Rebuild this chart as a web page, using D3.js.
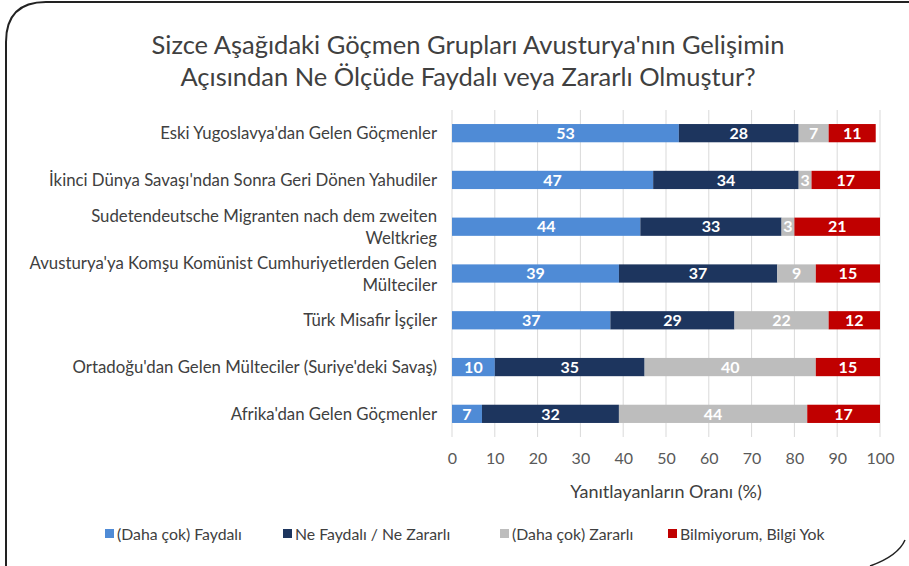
<!DOCTYPE html>
<html>
<head>
<meta charset="utf-8">
<script src="https://cdn.jsdelivr.net/npm/d3@7"></script>
<style>
  html, body { margin: 0; padding: 0; background: #fff; }
  svg { display: block; font-family: Lato, "Open Sans", sans-serif; }
</style>
</head>
<body>
<svg id="chart" width="909" height="566"></svg>
<script>
// Survey groups (top to bottom), each label split into display lines
const categories = [
  ["Eski Yugoslavya'dan Gelen Göçmenler"],
  ["İkinci Dünya Savaşı'ndan Sonra Geri Dönen Yahudiler"],
  ["Sudetendeutsche Migranten nach dem zweiten", "Weltkrieg"],
  ["Avusturya'ya Komşu Komünist Cumhuriyetlerden Gelen", "Mülteciler"],
  ["Türk Misafir İşçiler"],
  ["Ortadoğu'dan Gelen Mülteciler (Suriye'deki Savaş)"],
  ["Afrika'dan Gelen Göçmenler"]
];
const seriesNames = ["(Daha çok) Faydalı", "Ne Faydalı / Ne Zararlı", "(Daha çok) Zararlı", "Bilmiyorum, Bilgi Yok"];
const faydali   = [53, 47, 44, 39, 37, 10, 7];
const notr      = [28, 34, 33, 37, 29, 35, 32];
const zararli   = [7, 3, 3, 9, 22, 40, 44];
const bilmiyorum = [11, 17, 21, 15, 12, 15, 17];
const xTicks = [0, 10, 20, 30, 40, 50, 60, 70, 80, 90, 100];
const colors = ["#4f8bd6", "#1d355e", "#bdbdbd", "#c00000"];

const svg = d3.select("#chart");
const seriesValues = [faydali, notr, zararli, bilmiyorum];

// Frame with rounded corners
svg.append("path")
  .attr("d", "M6,566 L6,42 Q6,2 46,2 L909,2")
  .attr("fill", "none").attr("stroke", "#222").attr("stroke-width", 2);
svg.append("path")
  .attr("d", "M870,566 Q898,556 905,540")
  .attr("fill", "none").attr("stroke", "#222").attr("stroke-width", 1.5);

// Title
const title = svg.append("text")
  .attr("text-anchor", "middle")
  .attr("fill", "#404040").attr("font-size", 25.5);
title.append("tspan").attr("x", 468).attr("y", 54).text("Sizce Aşağıdaki Göçmen Grupları Avusturya'nın Gelişimin");
title.append("tspan").attr("x", 468).attr("y", 86).text("Açısından Ne Ölçüde Faydalı veya Zararlı Olmuştur?");

const x = d3.scaleLinear().domain([0, 100]).range([452, 880]);
const y = d3.scaleBand().domain(d3.range(categories.length)).range([110, 437]).paddingInner(0.61).paddingOuter(0.3);

// Vertical gridlines
svg.append("g").selectAll("line").data(xTicks).join("line")
  .attr("x1", d => x(d)).attr("x2", d => x(d))
  .attr("y1", 110).attr("y2", 437)
  .attr("stroke", "#d9d9d9").attr("stroke-width", 1);

// Stacked bars
const rows = categories.map((c, i) => {
  let acc = 0;
  return seriesValues.map((vals, s) => {
    const seg = { row: i, s, v: vals[i], x0: acc, x1: acc + vals[i] };
    acc += vals[i];
    return seg;
  });
}).flat();

svg.append("clipPath").attr("id", "plotClip")
  .append("rect").attr("x", x(0)).attr("y", 100).attr("width", x(100) - x(0)).attr("height", 350);

const barG = svg.append("g").attr("clip-path", "url(#plotClip)");
barG.selectAll("rect").data(rows).join("rect")
  .attr("x", d => x(d.x0))
  .attr("y", d => y(d.row))
  .attr("width", d => x(d.x1) - x(d.x0))
  .attr("height", y.bandwidth())
  .attr("fill", d => colors[d.s]);

barG.selectAll("text").data(rows).join("text")
  .attr("x", d => (x(d.x0) + Math.min(x(d.x1), x(100))) / 2)
  .attr("y", d => y(d.row) + y.bandwidth() / 2)
  .attr("dy", "0.36em")
  .attr("text-anchor", "middle")
  .attr("fill", "#fff").attr("font-weight", "bold").attr("font-size", 16)
  .text(d => d.v);

// Category labels
const catG = svg.append("g");
categories.forEach((lines, i) => {
  const cy = y(i) + y.bandwidth() / 2;
  const lh = 22;
  const t = catG.append("text")
    .attr("text-anchor", "end").attr("fill", "#404040").attr("font-size", 16.8);
  lines.forEach((ln, k) => {
    t.append("tspan").attr("x", 437)
      .attr("y", cy + (k - (lines.length - 1) / 2) * lh)
      .attr("dy", "0.36em").text(ln);
  });
});

// X axis tick labels
const xAxis = d3.axisBottom(x).tickValues(xTicks).tickSize(0).tickPadding(0);
const axG = svg.append("g").attr("transform", "translate(0,453)").call(xAxis);
axG.select(".domain").remove();
axG.selectAll("text").attr("fill", "#595959").attr("font-size", 16)
  .attr("font-family", "Lato, 'Open Sans', sans-serif");

// Axis title
svg.append("text").attr("x", 666).attr("y", 498).attr("text-anchor", "middle")
  .attr("fill", "#404040").attr("font-size", 18)
  .text("Yanıtlayanların Oranı (%)");

// Legend
const legendX = [105, 283, 500, 668];
const lg = svg.append("g").selectAll("g").data(seriesNames).join("g")
  .attr("transform", (d, i) => `translate(${legendX[i]},534)`);
lg.append("rect").attr("x", 0).attr("y", -5).attr("width", 9).attr("height", 9)
  .attr("fill", (d, i) => colors[i]);
lg.append("text").attr("x", 12).attr("y", 0).attr("dy", "0.36em")
  .attr("fill", "#404040").attr("font-size", 15.8).text(d => d);
</script>
</body>
</html>
